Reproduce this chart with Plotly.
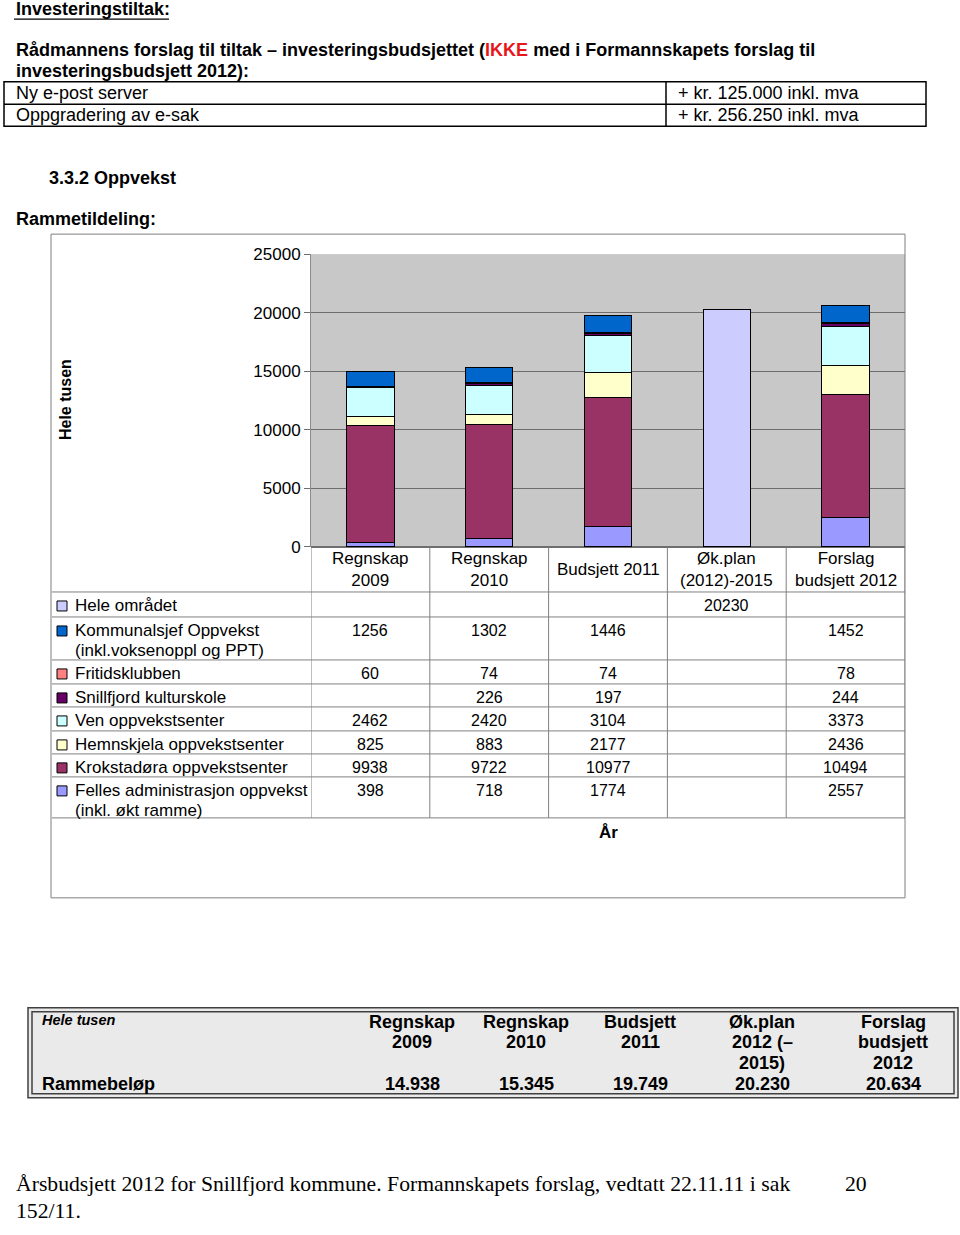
import plotly.graph_objects as go

W, H = 960, 1235

# ---------------- data ----------------
categories = ["Regnskap<br>2009", "Regnskap<br>2010", "Budsjett 2011",
              "Øk.plan<br>(2012)-2015", "Forslag<br>budsjett 2012"]

hele_omradet = [None, None, None, 20230, None]
kommunalsjef = [1256, 1302, 1446, None, 1452]
fritidsklubben = [60, 74, 74, None, 78]
kulturskole = [None, 226, 197, None, 244]
ven = [2462, 2420, 3104, None, 3373]
hemnskjela = [825, 883, 2177, None, 2436]
krokstadora = [9938, 9722, 10977, None, 10494]
felles = [398, 718, 1774, None, 2557]

series_names = ["Hele området", "Kommunalsjef Oppvekst<br>(inkl.voksenoppl og PPT)",
                "Fritidsklubben", "Snillfjord kulturskole", "Ven oppvekstsenter",
                "Hemnskjela oppvekstsenter", "Krokstadøra oppvekstsenter",
                "Felles administrasjon oppvekst<br>(inkl. økt ramme)"]
series_values = [hele_omradet, kommunalsjef, fritidsklubben, kulturskole, ven,
                 hemnskjela, krokstadora, felles]
series_colors = ["#CCCCFF", "#0066CC", "#FF8080", "#660066", "#CCFFFF",
                 "#FFFFCC", "#993366", "#9999FF"]

y_ticks = [0, 5000, 10000, 15000, 20000, 25000]

summary_headers = ["Regnskap<br>2009", "Regnskap<br>2010", "Budsjett<br>2011",
                   "Øk.plan<br>2012 (–<br>2015)", "Forslag<br>budsjett<br>2012"]
summary_values = ["14.938", "15.345", "19.749", "20.230", "20.634"]

invest_items = ["Ny e-post server", "Oppgradering av e-sak"]
invest_amounts = ["+ kr. 125.000 inkl. mva", "+ kr. 256.250 inkl. mva"]

# ---------------- helpers ----------------
Y_OFF, Y_SCALE = 8.8, 0.985  # compensate page vertical offset/scale


def px(x):
    return x / W


def py(y):
    return 1 - ((y - Y_OFF) / Y_SCALE) / H


SANS = "Liberation Sans, Arial, sans-serif"
SERIF = "Liberation Serif, Times New Roman, serif"

fig = go.Figure()

# stack bottom -> top
stack_order = [7, 6, 5, 4, 3, 2, 1, 0]
for i in stack_order:
    fig.add_trace(go.Bar(
        x=categories, y=series_values[i], name=series_names[i],
        marker=dict(color=series_colors[i], line=dict(color="#000000", width=1)),
        showlegend=False, hoverinfo="y+name"))

shapes = []
ann = []


def text(x, y, t, size=17, bold=False, color="black", xanchor="left",
         yanchor="middle", family=SANS, xref="paper", italic=False, align="left"):
    if bold:
        t = "<b>" + t + "</b>"
    if italic:
        t = "<i>" + t + "</i>"
    ann.append(dict(x=x if xref != "paper" else px(x), y=py(y), xref=xref, yref="paper",
                    text=t, showarrow=False, xanchor=xanchor, yanchor=yanchor,
                    align=align, font=dict(family=family, size=size, color=color)))


def line(x0, y0, x1, y1, color="black", width=1, xref="paper"):
    shapes.append(dict(type="line", xref=xref, yref="paper",
                       x0=x0 if xref != "paper" else px(x0), x1=x1 if xref != "paper" else px(x1),
                       y0=py(y0), y1=py(y1), line=dict(color=color, width=width)))


def rect(x0, y0, x1, y1, color="black", width=1, fill=None, layer="above"):
    shapes.append(dict(type="rect", xref="paper", yref="paper",
                       x0=px(x0), x1=px(x1), y0=py(y0), y1=py(y1),
                       line=dict(color=color, width=width),
                       fillcolor=fill if fill else "rgba(0,0,0,0)", layer=layer))


# ---------------- top text ----------------
text(14, 9, "Investeringstiltak:", size=18, bold=True)
line(14, 19, 169, 19, width=1.3)
text(14, 50, "Rådmannens forslag til tiltak – investeringsbudsjettet (<span style='color:#E8141B'>IKKE</span> med i Formannskapets forslag til", size=18, bold=True)
text(14, 71, "investeringsbudsjett 2012):", size=18, bold=True)

rect(4, 81.5, 926, 126, width=1.5)
line(4, 104, 926, 104, width=1.5)
line(666, 81.5, 666, 126, width=1.5)
for k, (item, amt) in enumerate(zip(invest_items, invest_amounts)):
    yy = 93 + 22 * k
    text(14, yy, item, size=18)
    text(676, yy, amt, size=18)

text(47, 178, "3.3.2 Oppvekst", size=18, bold=True)
text(14, 219, "Rammetildeling:", size=18, bold=True)

# ---------------- chart frame ----------------
rect(51, 234, 905, 898, color="#7F7F7F", width=1, layer="below")

# y title
ann.append(dict(x=px(65), y=py(400), xref="paper", yref="paper", text="<b>Hele tusen</b>",
                textangle=-90, showarrow=False, xanchor="center", yanchor="middle",
                font=dict(family=SANS, size=16, color="black")))

# data table
row_bounds = [547, 592, 617, 660, 684, 707, 731, 754, 777, 818]
for yb in row_bounds[1:]:
    line(52, yb, 905, yb, color="#808080", width=1)
for k in range(len(categories) + 1):
    line(k - 0.5, 547, k - 0.5, 818, color="#808080", width=1, xref="x")

# headers
for c in categories:
    ann.append(dict(x=c, y=py(570), xref="x", yref="paper", text=c, showarrow=False,
                    xanchor="center", yanchor="middle", align="center",
                    font=dict(family=SANS, size=17, color="black")))

# rows
for r, (name, vals, col) in enumerate(zip(series_names, series_values, series_colors)):
    top = row_bounds[r + 1]
    cy = top + 14
    shapes.append(dict(type="rect", xref="paper", yref="paper",
                       x0=px(57), x1=px(67), y0=py(cy - 5), y1=py(cy + 5),
                       fillcolor=col, line=dict(color="black", width=1)))
    lines = name.split("<br>")
    text(73, cy, lines[0])
    if len(lines) > 1:
        text(73, cy + 20, lines[1])
    for c, v in zip(categories, vals):
        if v is not None:
            ann.append(dict(x=c, y=py(cy), xref="x", yref="paper", text=str(v),
                            showarrow=False, xanchor="center", yanchor="middle",
                            font=dict(family=SANS, size=16, color="black")))

text(608, 833, "År", bold=True, xanchor="center")

# ---------------- summary table ----------------
rect(28, 1008, 958, 1098, color="#404040", width=1.5, fill="#EAEAEA", layer="below")
rect(32, 1012, 954, 1094, color="#404040", width=1.5)
text(40, 1020, "Hele tusen", size=14.5, bold=True, italic=True)
summary_x = [412, 526, 640, 762, 893]
for hx, hdr, val in zip(summary_x, summary_headers, summary_values):
    for j, part in enumerate(hdr.split("<br>")):
        text(hx, 1022 + 20.5 * j, part, size=18, bold=True, xanchor="center")
    text(hx, 1084, val, size=18, bold=True, xanchor="center")
text(40, 1084, "Rammebeløp", size=18, bold=True)

# ---------------- footer ----------------
text(14, 1184, "Årsbudsjett 2012 for Snillfjord kommune. Formannskapets forslag, vedtatt 22.11.11 i sak",
     size=21.7, family=SERIF)
text(843, 1184, "20", size=21.7, family=SERIF)
text(14, 1211, "152/11.", size=21.7, family=SERIF)

fig.update_layout(
    width=W, height=H, margin=dict(l=0, r=0, t=0, b=0),
    paper_bgcolor="white", plot_bgcolor="#C8C8C8",
    barmode="stack", bargap=0.6,
    xaxis=dict(domain=[px(311), px(905)], type="category", showticklabels=False,
               showgrid=False, zeroline=False, showline=False, ticks="",
               range=[-0.5, 4.5], fixedrange=True),
    yaxis=dict(domain=[py(547), py(254)], range=[0, 25000], tickvals=y_ticks,
               tickformat="d",
               showgrid=True, gridcolor="#6E6E6E", gridwidth=1,
               zeroline=True, zerolinecolor="#6E6E6E",
               showline=True, linecolor="#8C8C8C", linewidth=1,
               ticks="outside", ticklen=6, tickcolor="#6E6E6E",
               tickfont=dict(family=SANS, size=17, color="black"),
               fixedrange=True),
    shapes=shapes, annotations=ann, showlegend=False,
)

fig.write_html("out.html", config={"displayModeBar": False},
               post_script="document.body.style.margin='0';document.body.style.overflow='hidden';")
